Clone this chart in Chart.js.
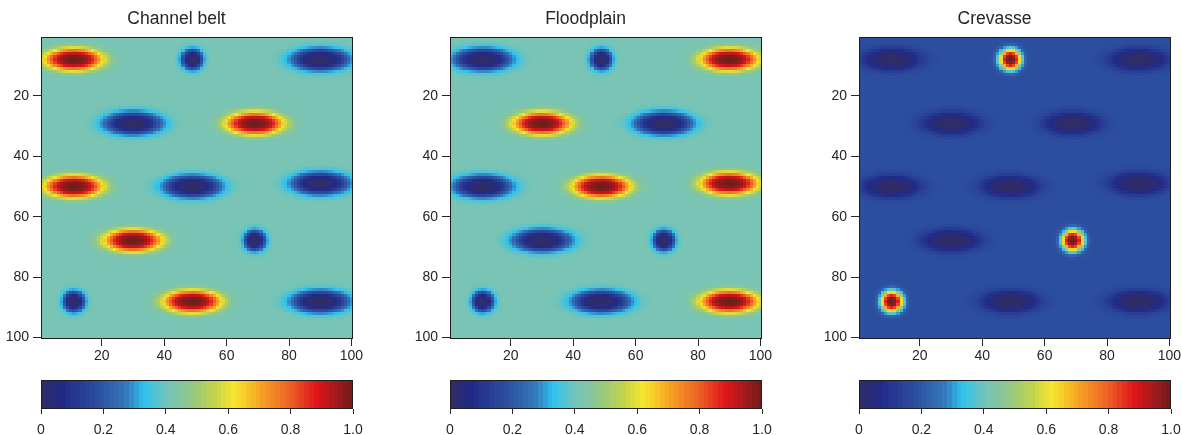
<!DOCTYPE html>
<html>
<head>
<meta charset="utf-8">
<script src="https://cdn.jsdelivr.net/npm/chart.js@4.4.1/dist/chart.umd.min.js"></script>
<style>
  html, body { margin: 0; padding: 0; background: #fff; }
  #wrap { position: relative; width: 1182px; height: 435px; overflow: hidden; }
  .box { position: absolute; }
</style>
</head>
<body>
<div id="wrap"></div>
<script>
// facies probability maps on a 100 x 100 grid
const panelTitles = ['Channel belt', 'Floodplain', 'Crevasse'];
const gridSize = 100;

// sand bodies: centre column / row, facies index (0 channel, 1 floodplain, 2 crevasse), shape radii in cells
const bodyCols    = [11, 49, 90, 30, 69, 11, 49, 90, 30, 69, 11, 49, 90];
const bodyRows    = [8, 8, 8, 29, 29, 50, 50, 49, 68, 68, 88, 88, 88];
const bodyFacies  = [0, 2, 1, 1, 0, 0, 1, 1, 0, 2, 2, 0, 1];
const bodyRadiusX = [9.4, 3.6, 9.4, 9.4, 9.4, 9.4, 9.4, 9.4, 9.4, 3.6, 3.6, 9.4, 9.4];
const bodyRadiusY = [3.8, 3.6, 3.8, 3.8, 3.8, 3.8, 3.8, 3.8, 3.8, 3.6, 3.6, 3.8, 3.8];

// probability of each facies away from any body
const backgroundProb = [0.41, 0.41, 0.18];

const axisTicks = [20, 40, 60, 80, 100];
const colorbarTicks = [0, 0.2, 0.4, 0.6, 0.8, 1.0];
const colorbarLabels = ['0', '0.2', '0.4', '0.6', '0.8', '1.0'];

const FONT = "'Liberation Sans', Arial, Helvetica, sans-serif";
const INK = '#262626';

// jet-like colour scale
const cmapStops = [
  [0.00, '#302c66'], [0.07, '#222a88'], [0.18, '#2c4e9e'], [0.27, '#3476bb'],
  [0.33, '#2ec2ee'], [0.41, '#79c4b4'], [0.45, '#84c5a0'], [0.50, '#9dcb74'],
  [0.56, '#c6d548'], [0.62, '#f7e52e'], [0.70, '#f5a623'], [0.80, '#ec5e25'],
  [0.88, '#e0161a'], [1.00, '#6f1e1b']
];
const hexRgb = h => [1, 3, 5].map(i => parseInt(h.substr(i, 2), 16));
const stopRgb = cmapStops.map(s => hexRgb(s[1]));

function colorFor(v) {
  v = Math.max(0, Math.min(1, v));
  let i = 0;
  while (i < cmapStops.length - 2 && v > cmapStops[i + 1][0]) i++;
  const a = cmapStops[i][0], b = cmapStops[i + 1][0];
  const t = (v - a) / (b - a);
  const c0 = stopRgb[i], c1 = stopRgb[i + 1];
  const rgb = c0.map((c, j) => Math.round(c + (c1[j] - c) * t));
  return 'rgb(' + rgb.join(',') + ')';
}

function faciesField(f) {
  const cells = [];
  for (let r = 1; r <= gridSize; r++) {
    for (let c = 1; c <= gridSize; c++) {
      let total = 0, own = 0;
      for (let k = 0; k < bodyCols.length; k++) {
        const dx = (c - bodyCols[k]) / bodyRadiusX[k];
        const dy = (r - bodyRows[k]) / bodyRadiusY[k];
        const w = Math.exp(-Math.pow(Math.hypot(dx, dy), 3));
        total += w;
        if (bodyFacies[k] === f) own += w;
      }
      const v = backgroundProb[f] * Math.max(0, 1 - total) + own;
      cells.push({ x: c, y: r, v: Math.min(1, v) });
    }
  }
  return cells;
}

// fills one rectangle per data point, edges taken from the chart scales
const cellPlugin = {
  id: 'cells',
  beforeDatasetsDraw(chart, args, opts) {
    const { ctx, scales: { x, y } } = chart;
    const half = opts.half;
    ctx.save();
    for (const p of chart.data.datasets[0].data) {
      const x0 = Math.round(x.getPixelForValue(p.x - half.x));
      const x1 = Math.round(x.getPixelForValue(p.x + half.x));
      const ya = Math.round(y.getPixelForValue(p.y - half.y));
      const yb = Math.round(y.getPixelForValue(p.y + half.y));
      ctx.fillStyle = colorFor(p.v);
      ctx.fillRect(x0, Math.min(ya, yb), x1 - x0, Math.abs(yb - ya));
    }
    ctx.restore();
  }
};

const framePlugin = {
  id: 'frame',
  afterDraw(chart) {
    const { ctx, chartArea: a } = chart;
    ctx.save();
    ctx.strokeStyle = '#1e1e1e';
    ctx.lineWidth = 1;
    ctx.strokeRect(Math.round(a.left) + 0.5, Math.round(a.top) + 0.5,
      Math.round(a.right - a.left) - 1, Math.round(a.bottom - a.top) - 1);
    ctx.restore();
  }
};

// fixed axis sizes so every plot area lines up
const fixSize = (prop, size) => s => {
  s[prop] = size;
  s.paddingLeft = s.paddingRight = s.paddingTop = s.paddingBottom = 0;
};

function makeCanvas(left, top, w, h) {
  const div = document.createElement('div');
  div.className = 'box';
  div.style.left = left + 'px';
  div.style.top = top + 'px';
  const cv = document.createElement('canvas');
  cv.width = w; cv.height = h;
  cv.style.width = w + 'px'; cv.style.height = h + 'px';
  div.appendChild(cv);
  document.getElementById('wrap').appendChild(div);
  return cv;
}

const tickFont = { family: FONT, size: 14 };

panelTitles.forEach((title, i) => {
  const left = i * 409;

  new Chart(makeCanvas(left, 0, 364, 370), {
    type: 'scatter',
    data: { datasets: [{ data: faciesField(i), pointRadius: 0, pointHoverRadius: 0 }] },
    options: {
      responsive: false, animation: false, events: [],
      layout: { padding: { left: 0, right: 11, top: 0, bottom: 0 }, autoPadding: false },
      plugins: {
        legend: { display: false }, tooltip: { enabled: false },
        title: { display: true, text: title, color: INK,
          font: { family: FONT, size: 17.5, weight: 'normal' }, padding: { top: 8.5, bottom: 7.5 } },
        cells: { half: { x: 0.5, y: 0.5 } }
      },
      scales: {
        x: {
          type: 'linear', position: 'bottom', min: 0.5, max: 100.5,
          afterBuildTicks: s => { s.ticks = axisTicks.map(v => ({ value: v })); },
          afterFit: fixSize('height', 31),
          ticks: { color: INK, font: tickFont, padding: 2, maxRotation: 0, autoSkip: false },
          grid: { drawOnChartArea: false, drawTicks: true, tickLength: 7, color: INK },
          border: { display: false }
        },
        y: {
          type: 'linear', position: 'left', min: 0.5, max: 100.5, reverse: true,
          afterBuildTicks: s => { s.ticks = axisTicks.map(v => ({ value: v })); },
          afterFit: fixSize('width', 41),
          ticks: { color: INK, font: tickFont, padding: 4, autoSkip: false },
          grid: { drawOnChartArea: false, drawTicks: true, tickLength: 8, color: INK },
          border: { display: false }
        }
      }
    },
    plugins: [cellPlugin, framePlugin]
  });

  // colour bar under each map
  const steps = 64;
  const barCells = [];
  for (let k = 0; k < steps; k++) barCells.push({ x: (k + 0.5) / steps, y: 0.5, v: (k + 0.5) / steps });

  new Chart(makeCanvas(left, 370, 364, 65), {
    type: 'scatter',
    data: { datasets: [{ data: barCells, pointRadius: 0, pointHoverRadius: 0 }] },
    options: {
      responsive: false, animation: false, events: [],
      layout: { padding: { left: 41, right: 11, top: 10, bottom: 0 }, autoPadding: false },
      plugins: {
        legend: { display: false }, tooltip: { enabled: false },
        cells: { half: { x: 0.5 / steps, y: 0.5 } }
      },
      scales: {
        x: {
          type: 'linear', position: 'bottom', min: 0, max: 1,
          afterBuildTicks: s => { s.ticks = colorbarTicks.map(v => ({ value: v })); },
          afterFit: fixSize('height', 26),
          ticks: { color: INK, font: tickFont, padding: 8, maxRotation: 0, autoSkip: false,
            callback: (v, idx) => colorbarLabels[idx] },
          grid: { drawOnChartArea: false, drawTicks: true, tickLength: 5, color: INK },
          border: { display: false }
        },
        y: { display: false, min: 0, max: 1 }
      }
    },
    plugins: [cellPlugin, framePlugin]
  });
});
</script>
</body>
</html>
